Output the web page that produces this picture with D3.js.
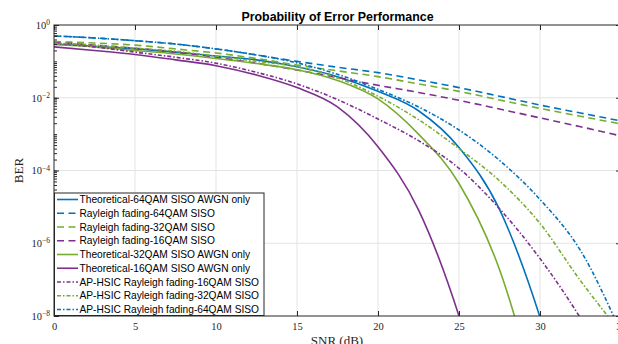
<!DOCTYPE html>
<html>
<head>
<meta charset="utf-8">
<script src="https://cdn.jsdelivr.net/npm/d3@7"></script>
<style>
  body { margin: 0; background: #fff; }
  svg { display: block; }
</style>
</head>
<body>
<svg id="chart"></svg>
<script>
// SNR grid (dB) and BER values
const snrDb = [0, 2.5, 5, 7.5, 10, 12.5, 15, 17.5, 20, 22.5, 25, 27.5, 30, 32.5, 35];

const theory64 = [0.30, 0.26, 0.22, 0.18, 0.14, 0.11, 0.071, 0.038, 0.015, 4.4e-3, 4.3e-4, 8.5e-6, 9.3e-9, 1e-12, null];
const rayleigh64 = [0.50, 0.44, 0.37, 0.30, 0.22, 0.15, 0.10, 0.069, 0.049, 0.031, 0.019, 0.011, 6.3e-3, 3.8e-3, 2.3e-3];
const rayleigh32 = [0.35, 0.32, 0.28, 0.22, 0.17, 0.12, 0.079, 0.055, 0.038, 0.024, 0.015, 8.7e-3, 5.1e-3, 3.1e-3, 1.9e-3];
const rayleigh16 = [0.33, 0.28, 0.23, 0.18, 0.13, 0.089, 0.058, 0.036, 0.022, 0.014, 8.5e-3, 4.9e-3, 2.8e-3, 1.6e-3, 8.9e-4];
const theory32 = [0.29, 0.25, 0.20, 0.16, 0.12, 0.087, 0.059, 0.030, 9.3e-3, 1.0e-3, 4.4e-5, 1.9e-7, 3.2e-11, null, null];
const theory16 = [0.25, 0.20, 0.155, 0.11, 0.076, 0.042, 0.019, 5.6e-3, 4.5e-4, 8.3e-6, 1.0e-8, 1e-12, null, null, null];
const apHsic16 = [0.31, 0.25, 0.18, 0.13, 0.089, 0.050, 0.024, 8.9e-3, 2.6e-3, 6.6e-4, 1.15e-4, 8.9e-6, 3.8e-7, 8.7e-9, 1e-10];
const apHsic32 = [0.32, 0.28, 0.23, 0.19, 0.14, 0.10, 0.071, 0.035, 0.011, 2.5e-3, 4.0e-4, 5.2e-5, 3.5e-6, 9.3e-8, 3.5e-9];
const apHsic64 = [0.50, 0.44, 0.37, 0.30, 0.22, 0.15, 0.091, 0.044, 0.017, 5.6e-3, 1.3e-3, 1.9e-4, 1.6e-5, 6.3e-7, 3.5e-9];

const seriesNames = [
  "Theoretical-64QAM SISO AWGN only",
  "Rayleigh fading-64QAM SISO",
  "Rayleigh fading-32QAM SISO",
  "Rayleigh fading-16QAM SISO",
  "Theoretical-32QAM SISO AWGN only",
  "Theoretical-16QAM SISO AWGN only",
  "AP-HSIC Rayleigh fading-16QAM SISO",
  "AP-HSIC Rayleigh fading-32QAM SISO",
  "AP-HSIC Rayleigh fading-64QAM SISO"
];
const seriesValues = [theory64, rayleigh64, rayleigh32, rayleigh16, theory32, theory16, apHsic16, apHsic32, apHsic64];

const xTicks = [0, 5, 10, 15, 20, 25, 30, 35];
const yTickExps = [0, -2, -4, -6, -8];

// MATLAB colours and line styles
const blue = "#0072BD", green = "#77AC30", purple = "#7E2F8E";
const seriesColors = [blue, blue, green, purple, green, purple, purple, green, blue];
const solid = null, dashed = "7,4.5", dashDot = "4,2,1.5,2";
const seriesDash = [solid, dashed, dashed, dashed, solid, solid, dashDot, dashDot, dashDot];

// Set up chart dimensions
const totalW = 618, totalH = 344;
const margin = { top: 25, left: 54 };
const width = 567;
const height = 291;

const svgRoot = d3.select("#chart").attr("width", totalW).attr("height", totalH);

// Title
svgRoot
  .append("text")
  .attr("x", margin.left + width / 2)
  .attr("y", 20.5)
  .attr("text-anchor", "middle")
  .style("font-family", "'Liberation Sans', Arial, sans-serif")
  .style("font-weight", "bold")
  .style("font-size", "12.4px")
  .style("fill", "#000")
  .text("Probability of Error Performance");

const svg = svgRoot
  .append("g")
  .attr("transform", "translate(" + margin.left + "," + margin.top + ")");

const xScale = d3.scaleLinear().domain([0, 35]).range([0, width]);
const yScale = d3.scaleLog().domain([1e-8, 1]).range([height, 0]);

// Grid lines
svg
  .append("g")
  .selectAll("line")
  .data(xTicks.slice(1, -1))
  .enter()
  .append("line")
  .attr("x1", (d) => xScale(d))
  .attr("x2", (d) => xScale(d))
  .attr("y1", 0)
  .attr("y2", height)
  .style("stroke", "#e3e3e3")
  .style("stroke-width", 1);

svg
  .append("g")
  .selectAll("line")
  .data(yTickExps.slice(1, -1))
  .enter()
  .append("line")
  .attr("x1", 0)
  .attr("x2", width)
  .attr("y1", (d) => yScale(Math.pow(10, d)))
  .attr("y2", (d) => yScale(Math.pow(10, d)))
  .style("stroke", "#e3e3e3")
  .style("stroke-width", 1);

// Clip lines to the axes box
svg
  .append("clipPath")
  .attr("id", "plot-clip")
  .append("rect")
  .attr("width", width)
  .attr("height", height);

const line = d3
  .line()
  .defined((d) => d[1] !== null)
  .x((d) => xScale(d[0]))
  .y((d) => yScale(d[1]))
  .curve(d3.curveMonotoneX);

svg
  .append("g")
  .attr("clip-path", "url(#plot-clip)")
  .selectAll("path")
  .data(seriesValues)
  .enter()
  .append("path")
  .attr("d", (vals) => line(snrDb.map((s, i) => [s, vals[i]])))
  .style("fill", "none")
  .style("stroke", (d, i) => seriesColors[i])
  .style("stroke-width", 1.6)
  .style("stroke-dasharray", (d, i) => seriesDash[i]);

// Minor log ticks
const minorTicks = [];
for (let e = -8; e < 0; e++) {
  for (let k = 1; k <= 9; k++) minorTicks.push(k * Math.pow(10, e));
}

const axisColor = "#262626";
const tickFont = "'Liberation Serif', 'Times New Roman', serif";

function styleAxis(g) {
  g.select(".domain").remove();
  g.selectAll(".tick line").style("stroke", axisColor);
}

svg.append("g").call(d3.axisLeft(yScale).tickValues(minorTicks).tickSize(-3).tickFormat("")).call(styleAxis);
svg
  .append("g")
  .attr("transform", "translate(" + width + ",0)")
  .call(d3.axisRight(yScale).tickValues(minorTicks).tickSize(-3).tickFormat(""))
  .call(styleAxis);

// Add y-axis (major ticks with 10^n labels)
const yAxisG = svg
  .append("g")
  .call(
    d3
      .axisLeft(yScale)
      .tickValues(yTickExps.map((e) => Math.pow(10, e)))
      .tickSize(-5)
      .tickPadding(4)
  )
  .call(styleAxis);

yAxisG
  .selectAll(".tick text")
  .text(null)
  .attr("dy", "0.32em")
  .style("font-family", tickFont)
  .style("font-size", "10.5px")
  .style("fill", axisColor)
  .each(function (d) {
    const t = d3.select(this);
    const e = Math.round(Math.log10(d));
    t.append("tspan").text("10");
    t.append("tspan")
      .attr("dy", "-0.5em")
      .style("font-size", "7.5px")
      .text(e === 0 ? "0" : "\u2212" + Math.abs(e));
  });

svg
  .append("g")
  .attr("transform", "translate(" + width + ",0)")
  .call(d3.axisRight(yScale).tickValues(yTickExps.map((e) => Math.pow(10, e))).tickSize(-5).tickFormat(""))
  .call(styleAxis);

// Add x-axis
svg
  .append("g")
  .attr("transform", "translate(0," + height + ")")
  .call(d3.axisBottom(xScale).tickValues(xTicks).tickSize(-5).tickPadding(7))
  .call(styleAxis)
  .selectAll(".tick text")
  .style("font-family", tickFont)
  .style("font-size", "10.5px")
  .style("fill", axisColor);

svg
  .append("g")
  .call(d3.axisTop(xScale).tickValues(xTicks).tickSize(-5).tickFormat(""))
  .call(styleAxis);

// Axes box
svg
  .append("rect")
  .attr("width", width)
  .attr("height", height)
  .style("fill", "none")
  .style("stroke", axisColor)
  .style("stroke-width", 1);

// Axis labels
svg
  .append("text")
  .attr("text-anchor", "middle")
  .attr("x", 283)
  .attr("y", height + 29)
  .style("font-family", tickFont)
  .style("font-size", "13px")
  .style("fill", axisColor)
  .text("SNR (dB)");

svg
  .append("text")
  .attr("text-anchor", "middle")
  .attr("transform", "translate(" + (23 - margin.left) + "," + height / 2 + ") rotate(-90)")
  .style("font-family", tickFont)
  .style("font-size", "13px")
  .style("fill", axisColor)
  .text("BER");

// Add legend
const legendBox = { x: 0.5, y: 168, w: 209.5, h: 123 };
const legendG = svg.append("g");
legendG
  .append("rect")
  .attr("x", legendBox.x)
  .attr("y", legendBox.y)
  .attr("width", legendBox.w)
  .attr("height", legendBox.h - 0.5)
  .style("fill", "#fff")
  .style("stroke", axisColor)
  .style("stroke-width", 1);

const legend = legendG
  .selectAll(".legend")
  .data(seriesNames)
  .enter()
  .append("g")
  .attr("class", "legend")
  .attr("transform", (d, i) => "translate(0," + (legendBox.y + 6.5 + i * 13.75) + ")");

legend
  .append("line")
  .attr("x1", 3)
  .attr("x2", 24)
  .style("stroke", (d, i) => seriesColors[i])
  .style("stroke-width", 1.6)
  .style("stroke-dasharray", (d, i) => seriesDash[i]);

legend
  .append("text")
  .attr("x", 25.5)
  .attr("dy", "0.35em")
  .style("font-family", "'Liberation Sans', Arial, sans-serif")
  .style("font-size", "10.2px")
  .style("fill", "#000")
  .text((d) => d);
</script>
</body>
</html>
